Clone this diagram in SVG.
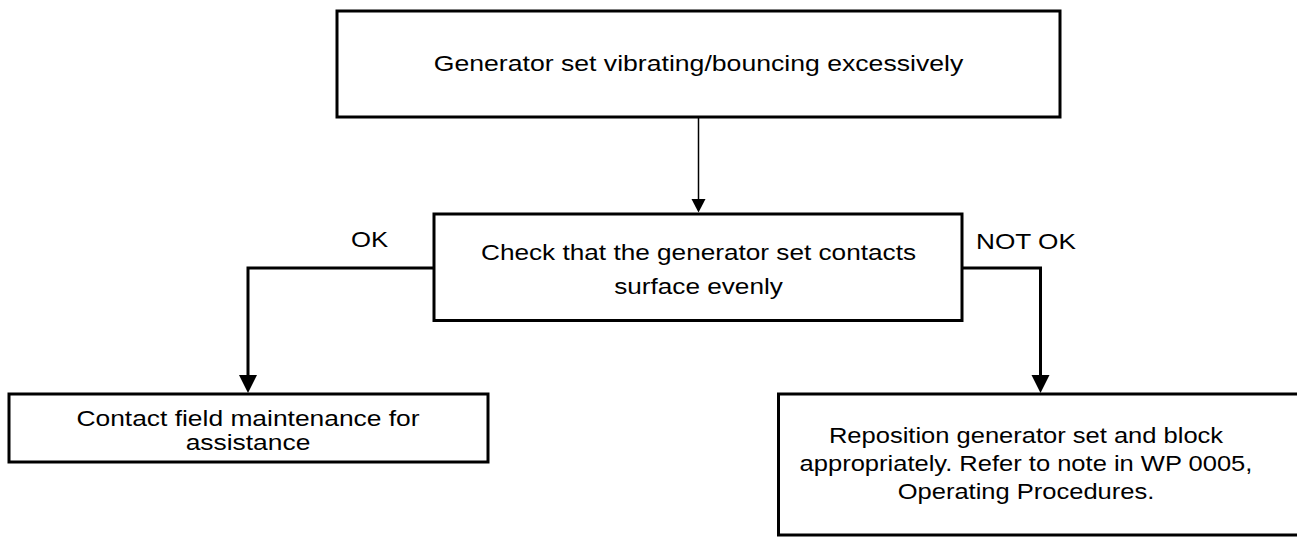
<svg xmlns="http://www.w3.org/2000/svg" width="1297" height="538" viewBox="0 0 1297 538">
<style>
.box{fill:#fff;stroke:#000;stroke-width:3}
.t{font-family:"Liberation Sans",Arial,sans-serif;font-size:22px;fill:#000;text-anchor:middle}
.lbl{font-family:"Liberation Sans",Arial,sans-serif;font-size:22px;fill:#000}
.c{fill:none;stroke:#000;stroke-width:3}
.thin{fill:none;stroke:#000;stroke-width:1.5}
</style>
<rect width="1297" height="538" fill="#fff"/>
<g id="connectors">
<line class="thin" x1="698.5" y1="118" x2="698.5" y2="200"/>
<polygon points="691.5,199 705.5,199 698.5,212.5"/>
<polyline class="c" points="434,268 248,268 248,376"/>
<polygon points="239,375 257,375 248,393"/>
<polyline class="c" points="962,268 1040.5,268 1040.5,376"/>
<polygon points="1031.5,375 1049.5,375 1040.5,393"/>
<text class="lbl" transform="translate(351 0) scale(1.17 1)" x="0" y="247">OK</text>
<text class="lbl" transform="translate(976 0) scale(1.19 1)" x="0" y="249">NOT OK</text>
</g>
<g id="n1">
<rect class="box" x="337" y="11" width="723" height="106"/>
<text class="t" transform="translate(698.5 0) scale(1.21 1)" x="0" y="71">Generator set vibrating/bouncing excessively</text>
</g>
<g id="n2">
<rect class="box" x="434" y="214" width="528" height="106.5"/>
<g transform="translate(698.5 0) scale(1.19 1)">
<text class="t" x="0" y="260">Check that the generator set contacts</text>
<text class="t" x="0" y="294">surface evenly</text>
</g>
</g>
<g id="n3">
<rect class="box" x="9" y="394" width="479" height="68"/>
<g transform="translate(248 0) scale(1.2 1)">
<text class="t" x="0" y="426.5">Contact field maintenance for</text>
<text class="t" x="0" y="450">assistance</text>
</g>
</g>
<g id="n4">
<rect class="box" x="778.5" y="394" width="530" height="141"/>
<g transform="translate(1026 0) scale(1.16 1)">
<text class="t" x="0" y="443">Reposition generator set and block</text>
<text class="t" x="0" y="471">appropriately. Refer to note in WP 0005,</text>
<text class="t" x="0" y="499">Operating Procedures.</text>
</g>
</g>
</svg>
